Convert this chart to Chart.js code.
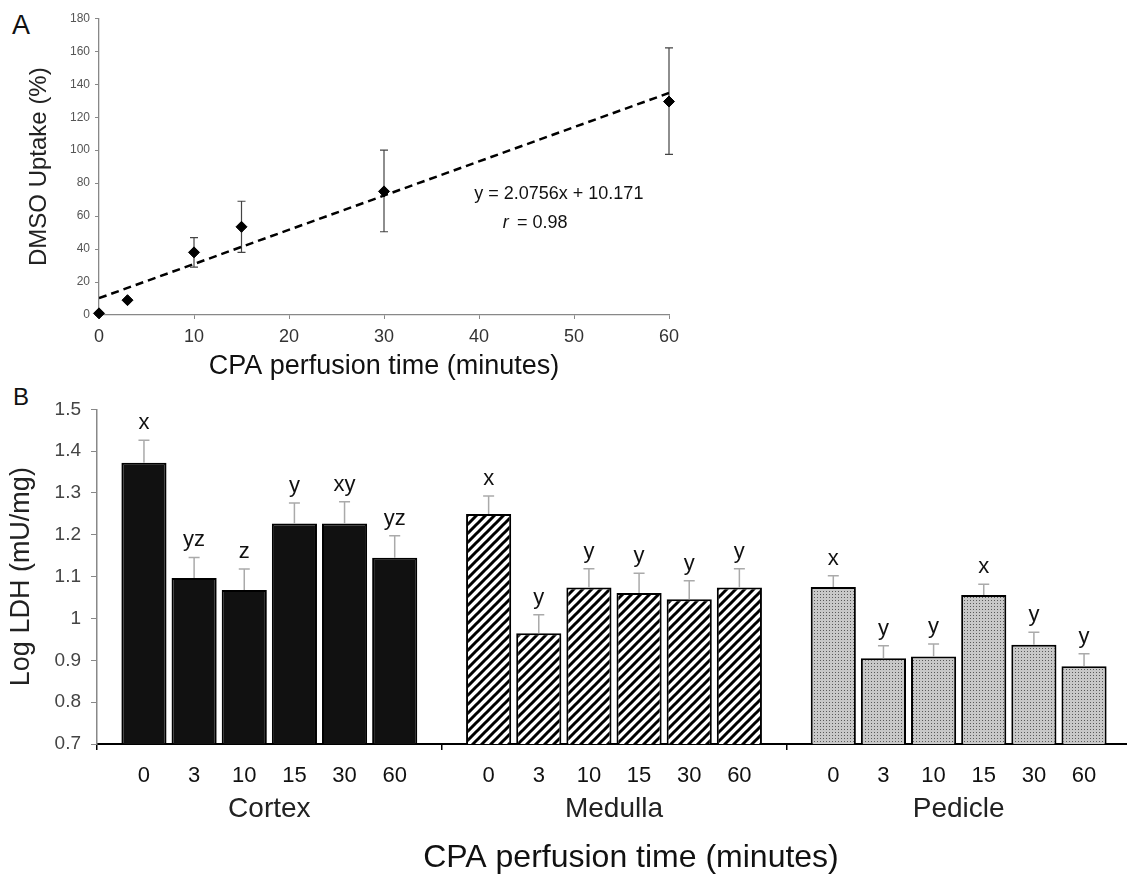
<!DOCTYPE html>
<html>
<head>
<meta charset="utf-8">
<script src="https://cdn.jsdelivr.net/npm/chart.js@4.4.1/dist/chart.umd.min.js"></script>
<style>
  html, body { margin: 0; padding: 0; background: #fff; overflow: hidden; width: 1127px; height: 874px; }
  canvas { position: absolute; left: 0; }
  .letra { position: absolute; font-family: "Liberation Sans", Arial, sans-serif; color: #111; line-height: 1; }
</style>
</head>
<body>
<div class="letra" style="left:12px; top:12px; font-size:27px;">A</div>
<div class="letra" style="left:13px; top:385px; font-size:24px;">B</div>
<canvas id="graficoA" width="700" height="385" style="top:0px"></canvas>
<canvas id="graficoB" width="1134" height="494" style="top:380px"></canvas>
<script>
// painel A - captacao de DMSO
var tempos = [0, 3, 10, 15, 30, 60];
var captacao = [1, 9, 38, 53.5, 75, 129.5];
var captacaoMin = [null, null, 29, 38, 50.5, 97.5];
var captacaoMax = [null, null, 47, 69, 100, 162];
var tendenciaX = [0, 60];
var tendenciaY = [10.2, 134.7];

// painel B - Log LDH
var regioes = ["Cortex", "Medulla", "Pedicle"];
var rotulosTempo = ["0", "3", "10", "15", "30", "60"];
var ldhCortex = [1.372, 1.097, 1.068, 1.227, 1.227, 1.145];
var ldhMedulla = [1.25, 0.965, 1.074, 1.061, 1.046, 1.074];
var ldhPedicle = [1.075, 0.905, 0.909, 1.056, 0.937, 0.886];
var erroCortex = [0.054, 0.049, 0.05, 0.049, 0.052, 0.053];
var erroMedulla = [0.043, 0.044, 0.045, 0.047, 0.044, 0.045];
var erroPedicle = [0.027, 0.03, 0.03, 0.026, 0.03, 0.03];
var letrasCortex = ["x", "yz", "z", "y", "xy", "yz"];
var letrasMedulla = ["x", "y", "y", "y", "y", "y"];
var letrasPedicle = ["x", "y", "y", "x", "y", "y"];

var fonte = '"Liberation Sans", Arial, sans-serif';

function montarGraficoA() {
    var pontos = [];
    for (var i = 0; i < tempos.length; i++) {
        pontos.push({x: tempos[i], y: captacao[i]});
    }
    var linha = [];
    for (var j = 0; j < tendenciaX.length; j++) {
        linha.push({x: tendenciaX[j], y: tendenciaY[j]});
    }

    var barrasErro = {
        id: 'barrasErro',
        beforeDatasetsDraw: function (chart) {
            var ctx = chart.ctx, sx = chart.scales.x, sy = chart.scales.y;
            ctx.save();
            ctx.strokeStyle = '#444';
            ctx.lineWidth = 1.2;
            for (var i = 0; i < tempos.length; i++) {
                if (captacaoMin[i] === null) continue;
                var x = sx.getPixelForValue(tempos[i]);
                var y1 = sy.getPixelForValue(captacaoMin[i]);
                var y2 = sy.getPixelForValue(captacaoMax[i]);
                ctx.beginPath();
                ctx.moveTo(x, y1); ctx.lineTo(x, y2);
                ctx.moveTo(x - 4, y1); ctx.lineTo(x + 4, y1);
                ctx.moveTo(x - 4, y2); ctx.lineTo(x + 4, y2);
                ctx.stroke();
            }
            ctx.restore();
        },
        afterDatasetsDraw: function (chart) {
            var ctx = chart.ctx, sx = chart.scales.x, sy = chart.scales.y;
            ctx.save();
            ctx.fillStyle = '#111';
            ctx.textBaseline = 'alphabetic';
            ctx.textAlign = 'left';
            ctx.font = '18px ' + fonte;
            ctx.fillText('y = 2.0756x + 10.171', sx.getPixelForValue(39.5), sy.getPixelForValue(70.3));
            ctx.font = 'italic 18px ' + fonte;
            ctx.fillText('r', sx.getPixelForValue(42.5), sy.getPixelForValue(52.9));
            ctx.font = '18px ' + fonte;
            ctx.fillText('= 0.98', sx.getPixelForValue(44.0), sy.getPixelForValue(52.9));
            ctx.restore();
        }
    };

    new Chart(document.getElementById("graficoA"), {
        type: 'scatter',
        data: {
            datasets: [
                {
                    label: "DMSO",
                    data: pontos,
                    pointStyle: 'rectRot',
                    pointRadius: 5.5,
                    backgroundColor: '#000',
                    borderColor: '#000',
                    clip: false,
                    order: 0
                }, {
                    label: "Tendencia",
                    data: linha,
                    showLine: true,
                    borderColor: '#000',
                    borderWidth: 2.5,
                    borderDash: [8, 5],
                    pointRadius: 0,
                    order: 1
                }
            ]
        },
        options: {
            responsive: false,
            animation: false,
            layout: { autoPadding: false, padding: { top: 18.3, right: 31, left: 0, bottom: 0 } },
            plugins: { legend: { display: false }, tooltip: { enabled: false } },
            scales: {
                x: {
                    type: 'linear',
                    min: 0, max: 60,
                    ticks: { stepSize: 10, color: '#333', font: { size: 18, family: fonte }, padding: 7 },
                    grid: { drawOnChartArea: false, tickLength: 4, color: '#888' },
                    border: { color: '#888', width: 1.3 },
                    title: { display: true, text: 'CPA perfusion time (minutes)', color: '#111',
                             font: { size: 27, family: fonte }, padding: { top: 0, bottom: 2 } },
                    afterFit: function (s) { s.height = 70; }
                },
                y: {
                    min: 0, max: 180,
                    ticks: { stepSize: 20, color: '#555', font: { size: 12, family: fonte }, padding: 5 },
                    grid: { drawOnChartArea: false, tickLength: 4, color: '#888' },
                    border: { color: '#888', width: 1.3 },
                    title: { display: true, text: 'DMSO Uptake (%)', color: '#222',
                             font: { size: 24, family: fonte }, padding: { top: 25, bottom: 0 } },
                    afterFit: function (s) { s.width = 99; }
                }
            }
        },
        plugins: [barrasErro]
    });
}

function criarHachura(ctx) {
    var c = document.createElement('canvas');
    c.width = 9; c.height = 9;
    var g = c.getContext('2d');
    g.fillStyle = '#fff';
    g.fillRect(0, 0, 9, 9);
    g.strokeStyle = '#000';
    g.lineWidth = 3;
    g.beginPath();
    g.moveTo(-2, 11); g.lineTo(11, -2);
    g.moveTo(-2, 2); g.lineTo(2, -2);
    g.moveTo(7, 11); g.lineTo(11, 7);
    g.stroke();
    return ctx.createPattern(c, 'repeat');
}

function criarPontilhado(ctx) {
    var c = document.createElement('canvas');
    c.width = 3; c.height = 3;
    var g = c.getContext('2d');
    g.fillStyle = '#c8c8c8';
    g.fillRect(0, 0, 3, 3);
    g.fillStyle = '#5a5a5a';
    g.fillRect(1, 1, 1, 1);
    return ctx.createPattern(c, 'repeat');
}

function montarGraficoB() {
    var canvas = document.getElementById("graficoB");
    var ctx0 = canvas.getContext('2d');
    var preenchimentos = ['#111', criarHachura(ctx0), criarPontilhado(ctx0)];
    var valores = [ldhCortex, ldhMedulla, ldhPedicle];
    var erros = [erroCortex, erroMedulla, erroPedicle];
    var letras = [letrasCortex, letrasMedulla, letrasPedicle];

    var datasets = [];
    for (var i = 0; i < rotulosTempo.length; i++) {
        datasets.push({
            label: rotulosTempo[i],
            data: [ldhCortex[i], ldhMedulla[i], ldhPedicle[i]],
            backgroundColor: preenchimentos,
            borderColor: '#000',
            borderWidth: 2,
            categoryPercentage: 0.873,
            barPercentage: 0.9
        });
    }

    var anotacoes = {
        id: 'anotacoes',
        afterDatasetsDraw: function (chart) {
            var ctx = chart.ctx, sy = chart.scales.y;
            var base = chart.chartArea.bottom;
            ctx.save();
            for (var d = 0; d < chart.data.datasets.length; d++) {
                var meta = chart.getDatasetMeta(d);
                for (var r = 0; r < meta.data.length; r++) {
                    var barra = meta.data[r];
                    var x = barra.x;
                    var topo = sy.getPixelForValue(valores[r][d] + erros[r][d]);
                    ctx.strokeStyle = '#aaa';
                    ctx.lineWidth = 1.5;
                    ctx.beginPath();
                    ctx.moveTo(x, barra.y); ctx.lineTo(x, topo);
                    ctx.moveTo(x - 5.5, topo); ctx.lineTo(x + 5.5, topo);
                    ctx.stroke();

                    ctx.fillStyle = '#111';
                    ctx.textAlign = 'center';
                    ctx.textBaseline = 'alphabetic';
                    ctx.font = '22px ' + fonte;
                    ctx.fillText(letras[r][d], x, topo - 11);

                    ctx.textBaseline = 'middle';
                    ctx.fillText(rotulosTempo[d], x, base + 32.4);
                }
            }
            ctx.font = '32px ' + fonte;
            ctx.textBaseline = 'middle';
            ctx.textAlign = 'center';
            ctx.fillText('CPA perfusion time (minutes)', 631, 478);
            ctx.restore();
        }
    };

    new Chart(canvas, {
        type: 'bar',
        data: {
            labels: regioes,
            datasets: datasets
        },
        options: {
            responsive: false,
            animation: false,
            layout: { autoPadding: false, padding: { top: 29.3, right: 3, left: 0, bottom: 0 } },
            plugins: { legend: { display: false }, tooltip: { enabled: false } },
            scales: {
                x: {
                    ticks: { color: '#222', font: { size: 28, family: fonte }, padding: 42, maxRotation: 0 },
                    grid: { drawOnChartArea: false, offset: true, tickLength: 6, color: '#000', lineWidth: 1.5 },
                    border: { color: '#000', width: 2 },
                    afterFit: function (s) { s.height = 130; }
                },
                y: {
                    min: 0.7, max: 1.5,
                    ticks: {
                        stepSize: 0.1, color: '#444', font: { size: 19, family: fonte }, padding: 10,
                        callback: function (v) { return String(Number(v.toFixed(1))); }
                    },
                    grid: { drawOnChartArea: false, tickLength: 6, color: '#888' },
                    border: { color: '#888', width: 1.5 },
                    title: { display: true, text: 'Log LDH (mU/mg)', color: '#222',
                             font: { size: 27, family: fonte }, padding: { top: 5.8, bottom: 0 } },
                    afterFit: function (s) { s.width = 97; }
                }
            }
        },
        plugins: [anotacoes]
    });
}

montarGraficoA();
montarGraficoB();
</script>
</body>
</html>
